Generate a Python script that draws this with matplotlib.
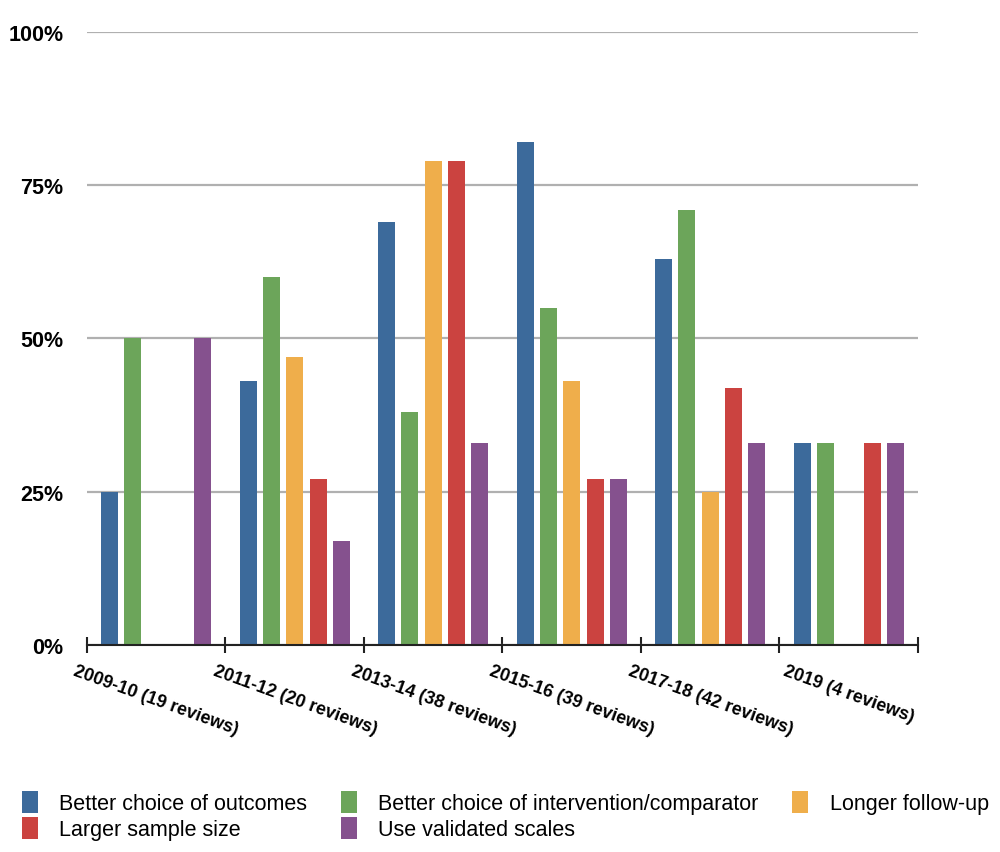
import numpy as np
import matplotlib.pyplot as plt
from matplotlib.patches import Patch

plt.rcParams['font.family'] = ['Liberation Sans', 'DejaVu Sans']

periods = ['2009-10 (19 reviews)', '2011-12 (20 reviews)', '2013-14 (38 reviews)',
           '2015-16 (39 reviews)', '2017-18 (42 reviews)', '2019 (4 reviews)']
series_names = ['Better choice of outcomes', 'Better choice of intervention/comparator',
                'Longer follow-up', 'Larger sample size', 'Use validated scales']
outcomes = [25, 43, 69, 82, 63, 33]
intervention = [50, 60, 38, 55, 71, 33]
follow_up = [0, 47, 79, 43, 25, 0]
sample_size = [0, 27, 79, 27, 42, 33]
validated = [50, 17, 33, 27, 33, 33]
colors = ['#3c6a9b', '#6ca55a', '#efae4b', '#cb4340', '#85518e']

values = [outcomes, intervention, follow_up, sample_size, validated]

fig = plt.figure(figsize=(10, 8.53), dpi=100)
ax = fig.add_axes([0.087, 0.2427, 0.831, 0.7186])

x = np.arange(len(periods)) + 0.5
step = 0.168
width = 0.123
for i, (vals, col) in enumerate(zip(values, colors)):
    ax.bar(x + (i - 2) * step, vals, width, color=col, zorder=3)

ax.set_xlim(0, len(periods))
ax.set_ylim(0, 100)
ax.set_yticks([0, 25, 50, 75, 100])
ax.set_yticklabels(['0%', '25%', '50%', '75%', '100%'], fontsize=15.5, fontweight='bold')
ax.tick_params(axis='y', length=0, pad=17)
ax.yaxis.grid(True, color='#b0b0b0', linewidth=1.6, zorder=0)

ax.set_xticks(np.arange(len(periods) + 1))
ax.set_xticklabels([])
ax.tick_params(axis='x', which='major', direction='inout', length=12, width=1.5, color='#222222')
ax.set_xticks(x, minor=True)
ax.set_xticklabels(periods, minor=True, rotation=-20, ha='center', va='top',
                   fontsize=13, fontweight='bold')
ax.tick_params(axis='x', which='minor', length=0, pad=12)

for s in ['left', 'right', 'top']:
    ax.spines[s].set_visible(False)
ax.spines['bottom'].set_linewidth(1.5)
ax.spines['bottom'].set_color('#222222')
ax.spines['bottom'].set_zorder(4)

handles = [Patch(facecolor=c, label=n) for c, n in zip(colors, series_names)]
order = [0, 3, 1, 4, 2]
fig.legend([handles[k] for k in order], [series_names[k] for k in order],
           ncol=3, loc='upper left', bbox_to_anchor=(0.013, 0.082),
           frameon=False, fontsize=15.5, handlelength=0.75, handleheight=1.2,
           handletextpad=1.0, columnspacing=1.55, labelspacing=0.12, borderaxespad=0)

fig.savefig('out.png', dpi=100)
